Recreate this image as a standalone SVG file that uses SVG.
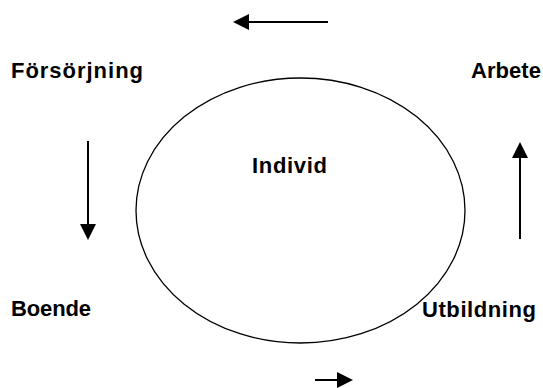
<svg xmlns="http://www.w3.org/2000/svg" width="543" height="388" viewBox="0 0 543 388">
<style>
.t{font-family:"Liberation Sans",Arial,sans-serif;font-weight:bold;font-size:22px;fill:#000}
.c{stroke:#000;stroke-width:2;fill:none}
</style>
<rect width="543" height="388" fill="#fff"/>
<g id="individ">
<ellipse cx="300.5" cy="210.5" rx="164.5" ry="132.5" fill="none" stroke="#000" stroke-width="1.3"/>
<text class="t" x="252" y="173" textLength="75" lengthAdjust="spacing">Individ</text>
</g>
<g id="forsorjning"><text class="t" x="11" y="78" textLength="132" lengthAdjust="spacing">Försörjning</text></g>
<g id="arbete"><text class="t" x="471" y="78" textLength="70" lengthAdjust="spacing">Arbete</text></g>
<g id="boende"><text class="t" x="11" y="316" textLength="80" lengthAdjust="spacing">Boende</text></g>
<g id="utbildning"><text class="t" x="422" y="317" textLength="114" lengthAdjust="spacing">Utbildning</text></g>
<g id="connectors">
<line class="c" x1="328" y1="22" x2="249" y2="22"/>
<path d="M233,22 L249,14 L249,30 Z"/>
<line class="c" x1="88" y1="141" x2="88" y2="224"/>
<path d="M88,240 L80,224 L96,224 Z"/>
<line class="c" x1="520" y1="239" x2="520" y2="158"/>
<path d="M520,142 L512,158 L528,158 Z"/>
<line class="c" x1="315" y1="380" x2="337" y2="380"/>
<path d="M353,380 L337,372 L337,388 Z"/>
</g>
</svg>
